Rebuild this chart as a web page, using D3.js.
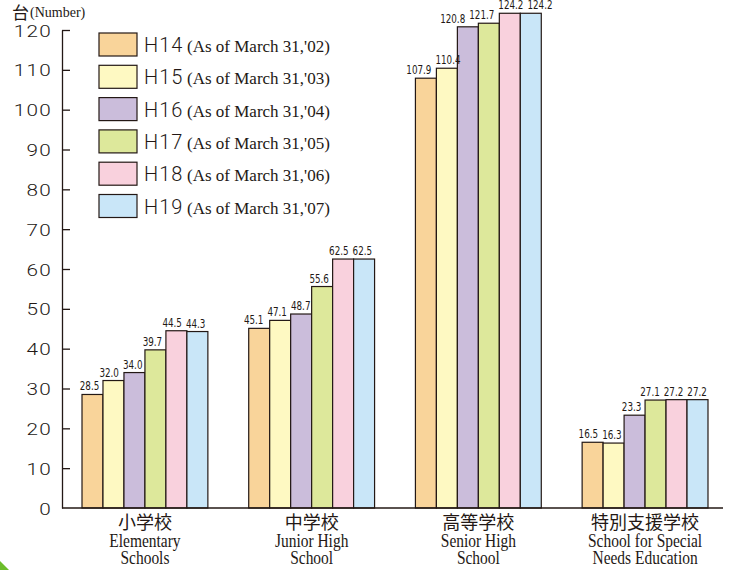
<!DOCTYPE html>
<html>
<head>
<meta charset="utf-8">
<script src="https://cdn.jsdelivr.net/npm/d3@7"></script>
<style>
  body { margin: 0; background: #fff; }
  svg { display: block; }
  .tick text { font-family: Roboto, "DejaVu Sans", sans-serif; font-weight: 300; font-size: 17px; fill: #231815; }
  .val { font-family: "DejaVu Sans Condensed", "DejaVu Sans", sans-serif; font-size: 12.5px; fill: #231815; }
  .ja { font-family: "Noto Sans CJK JP", sans-serif; font-size: 18px; fill: #231815; }
  .en { font-family: "Liberation Serif", serif; font-size: 18px; fill: #231815; }
  .leg { font-family: Roboto, "DejaVu Sans", sans-serif; font-weight: 300; font-size: 20px; fill: #231815; }
</style>
</head>
<body>
<script>
const W = 741, H = 570;
const AXIS_X = 62, BASE_Y = 508, TOP_Y = 30;

const categoriesJa = ["小学校", "中学校", "高等学校", "特別支援学校"];
const categoriesEn = [["Elementary", "Schools"], ["Junior High", "School"], ["Senior High", "School"], ["School for Special", "Needs Education"]];
const seriesNames = ["H14", "H15", "H16", "H17", "H18", "H19"];
const seriesDates = ["(As of March 31,'02)", "(As of March 31,'03)", "(As of March 31,'04)", "(As of March 31,'05)", "(As of March 31,'06)", "(As of March 31,'07)"];
const colors = ["#f9d49a", "#fef9c2", "#cbbddb", "#dde89b", "#f9d1dd", "#c9e6f8"];

const h14 = [28.5, 45.1, 107.9, 16.5];
const h15 = [32.0, 47.1, 110.4, 16.3];
const h16 = [34.0, 48.7, 120.8, 23.3];
const h17 = [39.7, 55.6, 121.7, 27.1];
const h18 = [44.5, 62.5, 124.2, 27.2];
const h19 = [44.3, 62.5, 124.2, 27.2];
const series = [h14, h15, h16, h17, h18, h19];
const yTicks = [0, 10, 20, 30, 40, 50, 60, 70, 80, 90, 100, 110, 120];

const svg = d3.select("body").append("svg").attr("width", W).attr("height", H);

const x0 = d3.scaleBand().domain(d3.range(categoriesJa.length)).range([AXIS_X, 728])
  .paddingInner(0.245).paddingOuter(0.12);
const x1 = d3.scaleBand().domain(d3.range(seriesNames.length)).range([0, x0.bandwidth()]);
const y = d3.scaleLinear().domain([0, 120]).range([BASE_Y, TOP_Y]);

// y axis, labels widened to match the broad digits of the original
const TSX = 1.22;
svg.append("g")
  .attr("transform", "translate(" + AXIS_X + ",0)")
  .call(d3.axisLeft(y).tickValues(yTicks).tickSize(-8).tickSizeOuter(0).tickPadding(10).tickFormat(d3.format("d")))
  .call(g => g.selectAll("line, path").attr("stroke", "#231815").attr("stroke-width", 1.3))
  .call(g => g.selectAll(".tick").filter(d => d === 0).select("line").remove())
  .call(g => g.selectAll(".tick text")
    .attr("dy", "0.36em").attr("letter-spacing", "1px")
    .attr("x", -10 / TSX).attr("transform", "scale(" + TSX + ",1)"));

// unit
svg.append("text").attr("class", "ja").attr("x", 12).attr("y", 19).style("font-size", "17px").text("台");
svg.append("text").attr("class", "en").attr("x", 30).attr("y", 17).style("font-size", "14px").text("(Number)");

// bars
const rows = [];
categoriesJa.forEach((c, ci) => {
  series.forEach((s, si) => rows.push({ ci, si, v: s[ci] }));
});

svg.append("g").selectAll("rect").data(rows).join("rect")
  .attr("x", d => x0(d.ci) + x1(d.si))
  .attr("width", x1.bandwidth())
  .attr("y", d => y(d.v))
  .attr("height", d => y(0) - y(d.v))
  .attr("fill", d => colors[d.si])
  .attr("stroke", "#231815")
  .attr("stroke-width", 1.2);

// value labels (narrowed horizontally)
const SX = 0.78;
const labels = svg.append("g").selectAll("text").data(rows).join("text")
  .attr("class", "val")
  .attr("text-anchor", "middle")
  .text(d => d.v.toFixed(1));

labels.each(function (d) {
  d.lx = x0(d.ci) + x1(d.si) + x1.bandwidth() / 2 - 3;
  d.ly = y(d.v) - 4;
  d.w = this.getComputedTextLength() * SX;
});
// push apart labels that sit at nearly the same height
for (let it = 0; it < 40; it++) {
  categoriesJa.forEach((c, ci) => {
    const g = rows.filter(r => r.ci === ci);
    for (let i = 0; i < g.length - 1; i++) {
      const a = g[i], b = g[i + 1];
      if (Math.abs(a.ly - b.ly) < 10) {
        const ov = (a.lx + a.w / 2 + 4) - (b.lx - b.w / 2);
        if (ov > 0) { a.lx -= ov / 2; b.lx += ov / 2; }
      }
    }
  });
}
labels.attr("transform", d => "translate(" + d.lx + "," + d.ly + ") scale(" + SX + ",1)");

// x baseline
svg.append("line")
  .attr("x1", AXIS_X).attr("x2", 723).attr("y1", y(0)).attr("y2", y(0))
  .attr("stroke", "#231815").attr("stroke-width", 1.3);

// category labels
const cat = svg.append("g").selectAll("g").data(categoriesJa).join("g")
  .attr("transform", (d, i) => "translate(" + (x0(i) + x0.bandwidth() / 2) + ",0)");
cat.append("text").attr("class", "ja").attr("text-anchor", "middle")
  .attr("y", 529).text(d => d);
cat.each(function (d, i) {
  d3.select(this).selectAll(".en").data(categoriesEn[i]).join("text")
    .attr("class", "en").attr("text-anchor", "middle")
    .attr("transform", (t, j) => "translate(0," + (547 + j * 17) + ") scale(0.86,1)")
    .text(t => t);
});

// legend
const leg = svg.append("g").selectAll("g").data(seriesNames).join("g")
  .attr("transform", (d, i) => "translate(99," + (33 + i * 32.3) + ")");
leg.append("rect").attr("width", 38).attr("height", 23)
  .attr("fill", (d, i) => colors[i]).attr("stroke", "#231815").attr("stroke-width", 1.2);
leg.append("text").attr("class", "leg").attr("x", 45).attr("y", 19).attr("letter-spacing", "1px").text(d => d);
leg.append("text").attr("class", "en").attr("x", 88).attr("y", 19).style("font-size", "17px").text((d, i) => seriesDates[i]);

// green corner
svg.append("path").attr("d", "M0,561 Q5,566 9,570 L0,570 Z").attr("fill", "#6cbd2b");
</script>
</body>
</html>
